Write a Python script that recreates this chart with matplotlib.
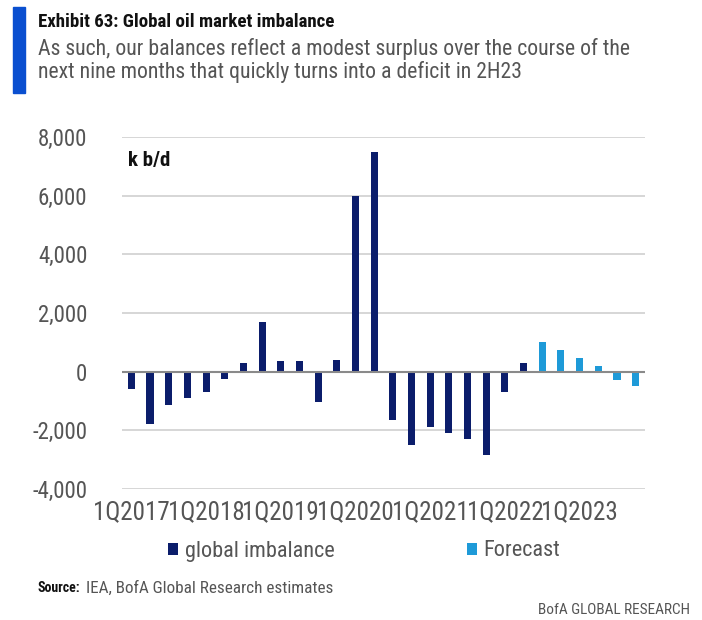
import numpy as np
import matplotlib.pyplot as plt
from matplotlib.patches import Rectangle

FONT = ['Roboto Condensed', 'Open Sans Condensed', 'Lato', 'DejaVu Sans']
plt.rcParams['font.family'] = FONT

# quarterly balance, k b/d, 1Q2017 .. 4Q2023
quarters = [f"{q}Q{y}" for y in range(2017, 2024) for q in range(1, 5)]
actual = [-600, -1800, -1150, -900, -700, -250, 300, 1700, 350, 350, -1050, 400,
          6000, 7500, -1650, -2500, -1900, -2100, -2300, -2850, -700, 300]
forecast = [1000, 750, 480, 200, -300, -500]

navy = '#0b1d6b'
light = '#1e9ad8'
grey_txt = '#555555'

fig = plt.figure(figsize=(7.02, 6.2), dpi=100)
ax = fig.add_axes([122 / 702, 1 - 489 / 620, 523 / 702, 352 / 620])

x = np.arange(len(quarters))
n_act = len(actual)
ax.bar(x[:n_act], actual, width=0.38, color=navy, label='global imbalance', zorder=3)
ax.bar(x[n_act:], forecast, width=0.38, color=light, label='Forecast', zorder=3)

ax.set_xlim(-0.5, len(quarters) - 0.5)
ax.set_ylim(-4000, 8000)
ax.set_yticks(range(-4000, 8001, 2000))
ax.set_yticklabels([f"{v:,}" for v in range(-4000, 8001, 2000)])
ax.yaxis.grid(True, color='#d0d0d0', linewidth=1.2, zorder=0)
ax.axhline(0, color='#8a8a8a', linewidth=1.5, zorder=4)

first_q = [i for i, q in enumerate(quarters) if q.startswith('1Q')]
ax.set_xticks(first_q)
ax.set_xticklabels([quarters[i] for i in first_q])
ax.tick_params(axis='x', length=0, labelsize=18, labelcolor=grey_txt, pad=8)
ax.tick_params(axis='y', length=0, labelsize=16.5, labelcolor=grey_txt, pad=25)
for s in ax.spines.values():
    s.set_visible(False)

ax.text(0.012, 0.96, 'k b/d', transform=ax.transAxes, fontsize=15, fontweight='bold',
        color='#111111', va='top')

ax.legend(loc='center', bbox_to_anchor=(364 / 702, 1 - 551 / 620),
          bbox_transform=fig.transFigure, ncol=2, frameon=False, fontsize=16,
          labelcolor=grey_txt, handlelength=0.45, handleheight=0.45,
          handletextpad=0.3, columnspacing=5.95)

# header
fig.patches.append(Rectangle((13 / 702, 1 - 93 / 620), 12 / 702, 86 / 620,
                             transform=fig.transFigure, color='#0a4fd0'))
fig.text(38 / 702, 1 - 22 / 620, 'Exhibit 63: Global oil market imbalance',
         fontsize=13.6, fontweight='bold', color='#111111', va='center')
fig.text(38 / 702, 1 - 49 / 620,
         'As such, our balances reflect a modest surplus over the course of the',
         fontsize=15.7, color=grey_txt, va='center')
fig.text(38 / 702, 1 - 72 / 620,
         'next nine months that quickly turns into a deficit in 2H23',
         fontsize=15.7, color=grey_txt, va='center')

# footer
src = fig.text(38 / 702, 1 - 588 / 620, 'Source:', fontsize=10, fontweight='bold',
               color='#111111', va='center')
fig.canvas.draw()
src_right = src.get_window_extent().x1 / fig.bbox.width
fig.text(src_right + 5 / 702, 1 - 588 / 620, 'IEA, BofA Global Research estimates',
         fontsize=12.3, color=grey_txt, va='center')
fig.text(690 / 702, 1 - 610 / 620, 'BofA GLOBAL RESEARCH', fontsize=11,
         color=grey_txt, va='center', ha='right')

fig.savefig('out.png', dpi=100)
